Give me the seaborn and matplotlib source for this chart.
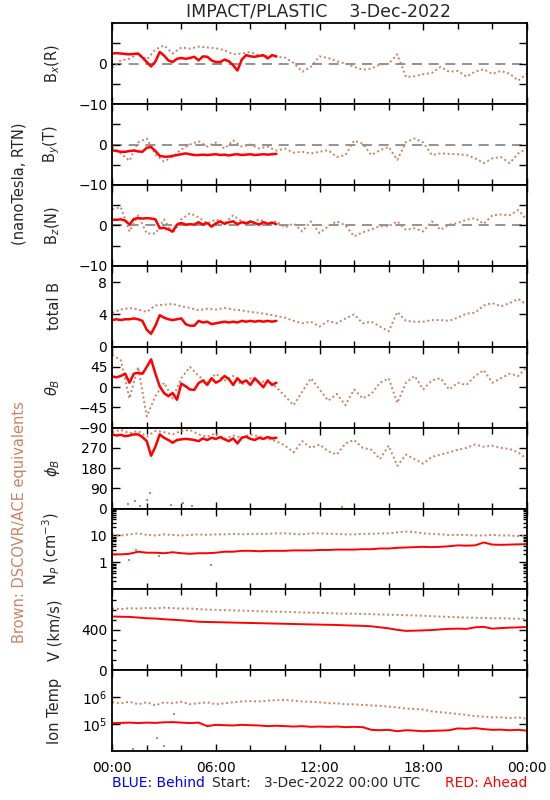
import matplotlib
import numpy as np
import seaborn as sns

matplotlib.use('Agg')
import matplotlib.pyplot as plt
from matplotlib.ticker import FixedLocator, NullFormatter, LogLocator

# hours since 3-Dec-2022 00:00 UTC
t_ace = np.arange(0, 24.5, 0.5)     # DSCOVR/ACE, every 30 min
t_mag = np.arange(0, 9.75, 0.25)    # STEREO-A mag, only up to ~09:30
t_pla = np.arange(0, 24.5, 0.5)     # STEREO-A plasma

bx_ace = [-1.0, 0.8, 1.2, 2.5, 1.0, 3.5, 4.5, 2.5, 4.0, 3.7,
          4.2, 4.0, 3.8, 3.3, 2.3, 2.5, 2.9, 2.0, 1.8, 1.7,
          1.5, 0.2, -2.0, -0.8, 1.8, 1.4, 0.6, 0.0, -0.8, -1.5,
          -1.2, -0.2, 0.0, 2.3, -3.3, -3.1, -2.6, -2.3, -0.8, -2.0,
          -1.8, -3.2, -2.0, -1.4, -2.5, -1.8, -2.5, -4.2, -2.5]
bx_sta = [2.5, 2.6, 2.5, 2.4, 2.3, 2.4, 2.5, 1.5, 0.4, -0.7,
          0.5, 2.9, 2.0, 0.8, 0.4, 1.2, 1.4, 1.2, 1.4, 1.7,
          0.8, 1.8, 1.7, 0.8, 0.4, 0.4, 1.0, 0.6, -0.4, -1.7,
          1.0, 2.1, 1.8, 1.7, 1.9, 2.1, 1.3, 2.1, 1.8]

by_ace = [-0.6, -2.2, -4.0, 0.5, 1.5, -2.5, -4.2, -3.0, -1.2, 0.0,
          0.8, -0.5, 0.5, -1.0, 1.0, -0.5, 0.0, -1.0, -0.5, -1.5,
          -1.0, -2.0, -1.8, -2.2, -1.8, -1.4, -3.1, -2.6, 1.0, 0.2,
          -2.6, -1.4, -0.6, -3.8, 0.6, 1.5, 0.5, -2.6, -2.2, -2.3,
          -2.4, -2.6, -3.4, -4.6, -3.4, -3.1, -4.6, -2.2, -1.0]
by_sta = [-1.4, -1.6, -1.8, -1.8, -1.6, -1.5, -1.7, -1.8, -0.8, -0.6,
          -1.6, -2.8, -3.0, -3.0, -2.8, -2.6, -2.4, -2.2, -2.4, -2.6,
          -2.6, -2.5, -2.6, -2.5, -2.4, -2.6, -2.5, -2.7, -2.5, -2.4,
          -2.6, -2.5, -2.4, -2.6, -2.5, -2.4, -2.5, -2.4, -2.3]

bz_ace = [4.0, 4.5, -1.5, 2.5, -2.0, -2.0, 1.5, -2.0, 1.5, 3.0,
          2.0, 0.5, 1.5, 0.5, 2.5, 1.0, 0.5, 1.5, 0.5, 1.0,
          -0.5, 0.5, -1.5, 1.0, -1.9, -0.2, 1.0, 0.0, -2.7, -1.7,
          -1.0, -0.2, -0.2, 1.0, -1.1, -0.7, -1.5, 1.0, -1.1, 0.2,
          0.6, 1.4, 1.8, 0.4, 2.5, 2.7, 2.5, 3.8, 1.4]
bz_sta = [1.4, 1.4, 1.5, 1.2, 0.2, 1.6, 1.8, 1.7, 1.8, 1.7,
          1.5, -0.7, -0.6, -1.0, -1.5, 0.2, 0.6, 0.2, 0.3, 0.2,
          0.8, 0.2, 0.6, -0.3, 0.5, 1.0, 0.4, 0.8, 1.0, 0.3,
          0.8, 0.5, 1.0, 0.6, 0.2, 0.8, 0.4, 0.7, 0.3]

bt_ace = [4.2, 4.6, 4.8, 4.6, 4.3, 5.1, 5.2, 5.3, 5.0, 4.8,
          4.5, 4.7, 4.6, 4.8, 4.6, 4.5, 4.3, 4.2, 4.0, 3.8,
          3.6, 3.2, 2.9, 3.1, 2.5, 3.2, 2.9, 3.5, 4.0, 2.9,
          3.1, 2.5, 1.9, 4.3, 3.2, 3.1, 3.1, 3.3, 3.3, 3.2,
          3.6, 4.1, 4.2, 5.1, 5.4, 5.0, 5.4, 5.9, 5.2]
bt_sta = [3.3, 3.4, 3.3, 3.4, 3.4, 3.5, 3.4, 3.2, 2.1, 1.6,
          2.6, 3.9, 3.6, 3.4, 3.3, 3.4, 3.5, 2.8, 2.6, 2.6,
          3.2, 3.0, 3.1, 2.8, 2.9, 3.0, 3.1, 3.0, 3.1, 3.0,
          3.2, 3.1, 3.2, 3.1, 3.2, 3.1, 3.2, 3.1, 3.2]

theta_ace = [72, 60, -25, 45, -65, -20, 10, -25, 20, 45,
             25, 10, 30, 15, 25, 5, 20, 10, 15, 0,
             -20, -40, -10, 20, -5, -30, -15, -40, -5, -25,
             -15, 10, 20, -35, 10, 25, -5, 15, 20, -5,
             10, 5, 25, 38, 10, 20, 30, 25, 45]
theta_sta = [24, 22, 25, 30, 10, 30, 32, 30, 45, 62,
             30, 2, -13, -20, -13, -28, 8, 2, -5, -6,
             9, 15, 5, 20, 10, 15, 25, 18, 5, 20,
             10, 15, 5, 20, 10, 0, 15, 5, 10]

phi_ace = [340, 350, 335, 345, 320, 345, 340, 330, 345, 350,
           330, 320, 335, 310, 325, 315, 330, 320, 310, 300,
           280, 250, 300, 270, 285, 255, 240, 290, 305, 270,
           262, 220, 280, 190, 240, 220, 200, 230, 240, 250,
           262, 270, 285, 275, 280, 270, 265, 250, 220]
phi_sta = [330, 325, 328, 322, 325, 330, 330, 318, 300, 235,
           275, 330, 315, 305, 293, 305, 308, 310, 308, 305,
           300, 312, 305, 315, 310, 318, 308, 300, 312, 290,
           315, 320, 310, 305, 315, 310, 318, 312, 315]
# stray brown points near phi = 0 (wrap-around)
phi_odd_t = [0.9, 1.3, 1.6, 2.0, 2.2, 3.4, 4.1, 4.6, 13.3]
phi_odd = [20, 35, 10, 40, 70, 15, 25, 10, 5]

np_ace = [11, 10, 11, 12, 10.5, 10, 11, 10.5, 10, 10.5,
          11, 10.5, 11, 11, 11.5, 11, 11.5, 11.5, 11.5, 12,
          12, 11.5, 11, 12, 12, 11.5, 11.5, 11, 11, 11.5,
          11.5, 12, 12, 13, 14, 13.5, 12, 11.5, 11, 10.5,
          10.5, 10.5, 10, 10, 10.5, 10, 10, 9.5, 10]
np_sta = [2.0, 2.0, 2.1, 2.5, 2.3, 2.3, 2.2, 2.4, 2.2, 2.1,
          2.2, 2.2, 2.3, 2.5, 2.5, 2.7, 2.7, 2.6, 2.7, 2.7,
          2.7, 2.8, 2.8, 2.8, 2.9, 2.9, 3.0, 3.0, 3.0, 3.1,
          3.1, 3.3, 3.3, 3.5, 3.6, 3.7, 3.8, 3.7, 3.8, 4.0,
          4.3, 4.2, 4.3, 5.5, 4.6, 4.5, 4.6, 4.7, 4.8]
np_odd_t = [1.0, 1.4, 2.7, 5.7]
np_odd = [1.2, 3.0, 1.8, 0.8]

v_ace = [612, 605, 615, 610, 618, 612, 620, 615, 610, 612,
         605, 600, 598, 595, 592, 590, 588, 585, 582, 580,
         578, 575, 572, 570, 568, 565, 562, 560, 560, 558,
         555, 552, 550, 548, 545, 542, 540, 535, 532, 528,
         525, 522, 520, 518, 515, 515, 512, 510, 508]
v_sta = [532, 530, 528, 522, 515, 512, 505, 500, 495, 488,
         480, 478, 476, 474, 472, 470, 468, 466, 464, 462,
         460, 458, 456, 454, 452, 450, 448, 445, 442, 440,
         435, 425, 415, 400, 390, 392, 395, 398, 405, 410,
         412, 410, 425, 430, 412, 418, 422, 425, 428]

# ion temperature in units of 1e5 K
temp_ace = [6.5, 6.0, 6.8, 5.5, 6.5, 5.0, 6.5, 6.0, 6.8, 5.5,
            6.0, 6.5, 5.5, 6.0, 6.5, 7.0, 7.2, 7.0, 7.5, 7.8,
            8.0, 7.5, 7.0, 6.8, 6.5, 6.0, 6.0, 5.5, 5.5, 5.2,
            5.0, 4.8, 4.5, 4.2, 3.8, 3.7, 3.5, 3.0, 2.8, 2.6,
            2.4, 2.2, 2.0, 1.9, 1.8, 1.8, 1.7, 1.8, 1.6]
temp_sta = [1.10, 1.12, 1.15, 1.10, 1.15, 1.12, 1.18, 1.20, 1.15, 1.10,
            1.15, 0.85, 0.95, 0.92, 0.90, 0.95, 0.92, 0.90, 0.85, 0.88,
            0.85, 0.82, 0.85, 0.80, 0.82, 0.80, 0.82, 0.78, 0.80, 0.78,
            0.62, 0.60, 0.62, 0.55, 0.60, 0.58, 0.55, 0.57, 0.58, 0.60,
            0.70, 0.68, 0.72, 0.66, 0.62, 0.63, 0.60, 0.62, 0.58]
temp_odd_t = [1.2, 2.6, 3.0, 3.6]
temp_odd = [0.12, 0.3, 0.15, 2.5]

x_labels = ['00:00', '06:00', '12:00', '18:00', '00:00']

BROWN = '#cd8162'
RED = '#ff0000'

# --------------------------------------------------------------------

sns.set_style('ticks')
plt.rcParams['font.family'] = ['DejaVu Sans']
plt.rcParams['font.size'] = 10

fig = plt.figure(figsize=(5.5, 8), dpi=100)
axes = fig.subplots(9, 1, sharex=True)
fig.subplots_adjust(left=0.204, right=0.958, top=0.971, bottom=0.061, hspace=0)

panels = [
    (bx_ace, bx_sta, t_mag, r'B$_x$(R)'),
    (by_ace, by_sta, t_mag, r'B$_y$(T)'),
    (bz_ace, bz_sta, t_mag, r'B$_z$(N)'),
    (bt_ace, bt_sta, t_mag, 'total B'),
    (theta_ace, theta_sta, t_mag, r'$\theta_B$'),
    (phi_ace, phi_sta, t_mag, r'$\phi_B$'),
    (np_ace, np_sta, t_pla, r'N$_P$ (cm$^{-3}$)'),
    (v_ace, v_sta, t_pla, 'V (km/s)'),
    ([v * 1e5 for v in temp_ace], [v * 1e5 for v in temp_sta], t_pla, 'Ion Temp'),
]

for i, (ace, sta, t_sta, label) in enumerate(panels):
    ax = axes[i]
    sns.lineplot(x=t_ace, y=ace, ax=ax, color=BROWN, lw=1.4,
                 linestyle=(0, (1, 1.4)))
    if i < 6:
        # field data: plain line, looks like the noisy 1-min trace
        sns.lineplot(x=t_sta, y=sta, ax=ax, color=RED, lw=1.8)
    else:
        sns.lineplot(x=t_sta, y=sta, ax=ax, color=RED, lw=1.4)
    ax.set_ylabel(label, fontsize=10.5)
    ax.yaxis.set_label_coords(-0.12, 0.5)

# stray points
sns.scatterplot(x=phi_odd_t, y=phi_odd, ax=axes[5], color=BROWN, marker='s', s=3, linewidth=0)
sns.scatterplot(x=np_odd_t, y=np_odd, ax=axes[6], color=BROWN, marker='s', s=3, linewidth=0)
sns.scatterplot(x=temp_odd_t, y=[v * 1e5 for v in temp_odd], ax=axes[8], color=BROWN,
                marker='s', s=3, linewidth=0)

# zero lines for field components
for ax in axes[:3]:
    ax.axhline(0, color='#808080', lw=1.2, dashes=(6, 4), zorder=0)
    ax.set_ylim(-10, 10)
    ax.yaxis.set_major_locator(FixedLocator([-10, -5, 0, 5]))
    ax.set_yticklabels(['\u221210', '', '0', ''])

axes[3].set_ylim(0, 10)
axes[3].yaxis.set_major_locator(FixedLocator([0, 4, 8]))
axes[3].set_yticklabels(['0', '4', '8'])

axes[4].set_ylim(-90, 90)
axes[4].yaxis.set_major_locator(FixedLocator([-90, -45, 0, 45]))
axes[4].set_yticklabels(['\u221290', '\u221245', '0', '45'])

axes[5].set_ylim(0, 360)
axes[5].yaxis.set_major_locator(FixedLocator([0, 90, 180, 270]))
axes[5].set_yticklabels(['0', '90', '180', '270'])

axes[6].set_yscale('log')
axes[6].set_ylim(0.1, 100)
axes[6].yaxis.set_major_locator(FixedLocator([1, 10]))
axes[6].set_yticklabels(['1', '10'])
axes[6].yaxis.set_minor_locator(LogLocator(base=10, subs=np.arange(2, 10)))
axes[6].yaxis.set_minor_formatter(NullFormatter())

axes[7].set_ylim(0, 800)
axes[7].yaxis.set_major_locator(FixedLocator([0, 400]))
axes[7].set_yticklabels(['0', '400'])
axes[7].yaxis.set_minor_locator(FixedLocator([100, 200, 300, 500, 600, 700]))

axes[8].set_yscale('log')
axes[8].set_ylim(1e4, 1e7)
axes[8].yaxis.set_major_locator(FixedLocator([1e5, 1e6]))
axes[8].set_yticklabels([r'10$^5$', r'10$^6$'])
axes[8].yaxis.set_minor_locator(FixedLocator([]))

for ax in axes:
    ax.set_xlim(0, 24)
    ax.xaxis.set_major_locator(FixedLocator([0, 6, 12, 18, 24]))
    ax.xaxis.set_minor_locator(FixedLocator([2, 4, 8, 10, 14, 16, 20, 22]))
    ax.tick_params(which='both', direction='in', top=True, right=True,
                   labelsize=10, colors='black', width=1)
    ax.tick_params(which='major', axis='y', length=6)
    ax.tick_params(which='minor', axis='y', length=3)
    ax.tick_params(which='major', axis='x', length=5)
    ax.tick_params(which='minor', axis='x', length=4)
    for s in ax.spines.values():
        s.set_linewidth(1.3)
        s.set_color('black')

axes[-1].set_xticklabels(x_labels)
axes[-1].tick_params(axis='x', pad=7)

fig.text(0.58, 0.985, 'IMPACT/PLASTIC    3-Dec-2022', ha='center', va='center', fontsize=12.5)
fig.text(0.035, 0.77, '(nanoTesla, RTN)', rotation=90, ha='center', va='center', fontsize=10.5)
fig.text(0.035, 0.347, 'Brown: DSCOVR/ACE equivalents', rotation=90, ha='center', va='center',
         fontsize=10.5, color=BROWN)
fig.text(0.204, 0.021, 'BLUE: Behind', ha='left', va='center', fontsize=10, color='blue')
fig.text(0.385, 0.021, 'Start:   3-Dec-2022 00:00 UTC', ha='left', va='center', fontsize=10)
fig.text(0.958, 0.021, 'RED: Ahead', ha='right', va='center', fontsize=10, color=RED)

plt.savefig('out.png', dpi=100)
